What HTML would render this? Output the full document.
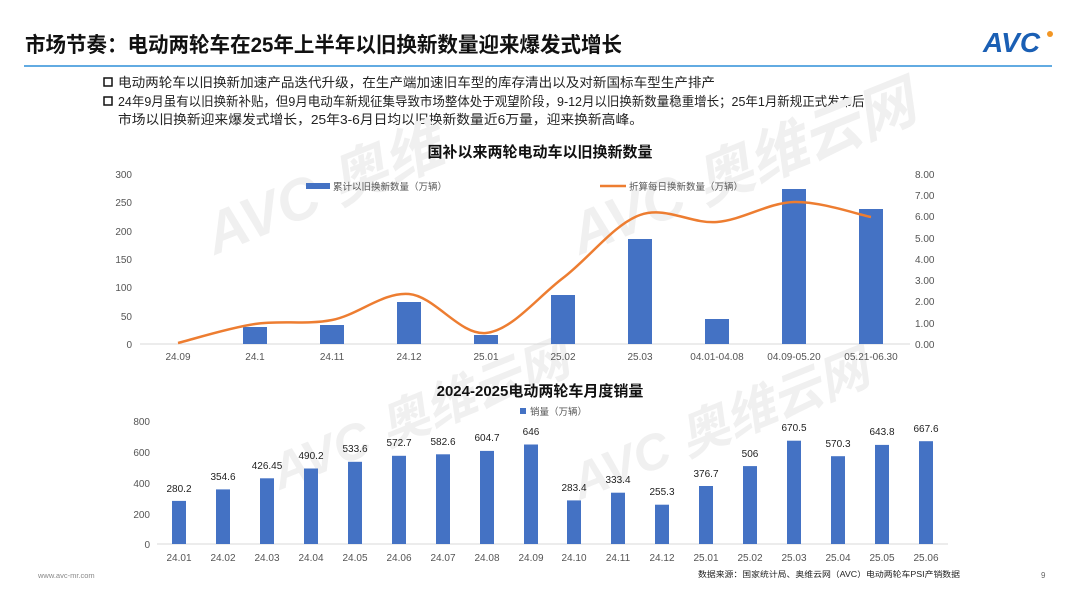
<!DOCTYPE html>
<html><head><meta charset="utf-8"><style>
body{margin:0;width:1080px;height:609px;background:#fff;overflow:hidden;font-family:"Liberation Sans","Noto Sans CJK SC",sans-serif;}
</style></head><body>
<svg width="1080" height="609" viewBox="0 0 1080 609" xmlns="http://www.w3.org/2000/svg" font-family="Liberation Sans, Noto Sans CJK SC, sans-serif">
<text x="25" y="52" font-size="21" font-weight="bold" fill="#111" textLength="597" lengthAdjust="spacingAndGlyphs">市场节奏：电动两轮车在25年上半年以旧换新数量迎来爆发式增长</text>
<line x1="24" y1="66" x2="1052" y2="66" stroke="#2e8fd8" stroke-width="1.5"/>
<g transform="translate(983,30)">
<text x="0" y="22" font-size="28" font-weight="bold" font-style="italic" fill="#1a5fb4">AVC</text>
<circle cx="67" cy="4" r="3" fill="#f29624"/>
</g>
<g font-size="13" fill="#222">
<rect x="104" y="78" width="8" height="8" fill="none" stroke="#111" stroke-width="1.5"/>
<text x="118" y="87" textLength="597" lengthAdjust="spacingAndGlyphs">电动两轮车以旧换新加速产品迭代升级，在生产端加速旧车型的库存清出以及对新国标车型生产排产</text>
<rect x="104" y="97" width="8" height="8" fill="none" stroke="#111" stroke-width="1.5"/>
<text x="118" y="106" textLength="759" lengthAdjust="spacingAndGlyphs">24年9月虽有以旧换新补贴，但9月电动车新规征集导致市场整体处于观望阶段，9-12月以旧换新数量稳重增长；25年1月新规正式发布后，</text>
<text x="118" y="124" textLength="525" lengthAdjust="spacingAndGlyphs">市场以旧换新迎来爆发式增长，25年3-6月日均以旧换新数量近6万量，迎来换新高峰。</text>
</g>
<!-- watermarks -->
<g fill="#f0f0f0" font-weight="bold">
<text x="215" y="255" font-size="58" font-style="italic" transform="rotate(-22 215 255)">AVC 奥维</text>
<text x="580" y="255" font-size="58" font-style="italic" transform="rotate(-22 580 255)">AVC 奥维云网</text>
<text x="280" y="490" font-size="50" font-style="italic" transform="rotate(-22 280 490)">AVC 奥维云网</text>
<text x="580" y="500" font-size="50" font-style="italic" transform="rotate(-22 580 500)">AVC 奥维云网</text>
</g>
<!-- top chart -->
<text x="540" y="157" font-size="15" font-weight="bold" text-anchor="middle" fill="#111">国补以来两轮电动车以旧换新数量</text>
<g font-size="10" fill="#555" text-anchor="end">
<text x="132" y="178">300</text><text x="132" y="206">250</text><text x="132" y="235">200</text><text x="132" y="263">150</text><text x="132" y="291">100</text><text x="132" y="320">50</text><text x="132" y="348">0</text>
</g>
<g font-size="10" fill="#555">
<text x="915" y="178">8.00</text><text x="915" y="199">7.00</text><text x="915" y="220">6.00</text><text x="915" y="242">5.00</text><text x="915" y="263">4.00</text><text x="915" y="284">3.00</text><text x="915" y="305">2.00</text><text x="915" y="327">1.00</text><text x="915" y="348">0.00</text>
</g>
<line x1="140" y1="344" x2="910" y2="344" stroke="#d9d9d9"/>
<g fill="#4472c4">
<rect x="243" y="327" width="24" height="17"/>
<rect x="320" y="325" width="24" height="19"/>
<rect x="397" y="302" width="24" height="42"/>
<rect x="474" y="335" width="24" height="9"/>
<rect x="551" y="295" width="24" height="49"/>
<rect x="628" y="239" width="24" height="105"/>
<rect x="705" y="319" width="24" height="25"/>
<rect x="782" y="189" width="24" height="155"/>
<rect x="859" y="209" width="24" height="135"/>
</g>
<path d="M178,343 C191,339.8 229,327.8 255,324 C281,320.2 306,325 332,320 C358,315 383,291.8 409,294 C435,296.2 460,335.7 486,333 C512,330.3 537,297.7 563,278 C589,258.3 614,224.3 640,215 C666,205.7 691,224.2 717,222 C743,219.8 768,202.8 794,202 C820,201.2 858,214.5 871,217" fill="none" stroke="#ed7d31" stroke-width="2.5"/>
<g font-size="10" fill="#555" text-anchor="middle">
<text x="178" y="360">24.09</text><text x="255" y="360">24.1</text><text x="332" y="360">24.11</text><text x="409" y="360">24.12</text><text x="486" y="360">25.01</text><text x="563" y="360">25.02</text><text x="640" y="360">25.03</text><text x="717" y="360">04.01-04.08</text><text x="794" y="360">04.09-05.20</text><text x="871" y="360">05.21-06.30</text>
</g>
<rect x="306" y="183" width="24" height="6" fill="#4472c4"/>
<text x="333" y="190" font-size="9.5" fill="#555">累计以旧换新数量（万辆）</text>
<line x1="600" y1="186" x2="626" y2="186" stroke="#ed7d31" stroke-width="2.5"/>
<text x="629" y="190" font-size="9.5" fill="#555">折算每日换新数量（万辆）</text>
<!-- bottom chart -->
<text x="540" y="396" font-size="15" font-weight="bold" text-anchor="middle" fill="#111">2024-2025电动两轮车月度销量</text>
<rect x="520" y="408" width="6" height="6" fill="#4472c4"/>
<text x="530" y="415" font-size="9.5" fill="#555">销量（万辆）</text>
<g font-size="10" fill="#555" text-anchor="end">
<text x="150" y="425">800</text><text x="150" y="456">600</text><text x="150" y="487">400</text><text x="150" y="518">200</text><text x="150" y="548">0</text>
</g>
<line x1="157" y1="544" x2="948" y2="544" stroke="#d9d9d9"/>
<g fill="#4472c4">
<rect x="172" y="500.9" width="14" height="43.1"/>
<rect x="216" y="489.4" width="14" height="54.6"/>
<rect x="260" y="478.3" width="14" height="65.7"/>
<rect x="304" y="468.5" width="14" height="75.5"/>
<rect x="348" y="461.8" width="14" height="82.2"/>
<rect x="392" y="455.8" width="14" height="88.2"/>
<rect x="436" y="454.3" width="14" height="89.7"/>
<rect x="480" y="450.9" width="14" height="93.1"/>
<rect x="524" y="444.5" width="14" height="99.5"/>
<rect x="567" y="500.4" width="14" height="43.6"/>
<rect x="611" y="492.7" width="14" height="51.3"/>
<rect x="655" y="504.7" width="14" height="39.3"/>
<rect x="699" y="486" width="14" height="58"/>
<rect x="743" y="466.1" width="14" height="77.9"/>
<rect x="787" y="440.7" width="14" height="103.3"/>
<rect x="831" y="456.2" width="14" height="87.8"/>
<rect x="875" y="444.9" width="14" height="99.1"/>
<rect x="919" y="441.2" width="14" height="102.8"/>
</g>
<g font-size="10" fill="#222" text-anchor="middle">
<text x="179" y="492">280.2</text><text x="223" y="480">354.6</text><text x="267" y="469">426.45</text><text x="311" y="459">490.2</text><text x="355" y="452">533.6</text><text x="399" y="446">572.7</text><text x="443" y="445">582.6</text><text x="487" y="441">604.7</text><text x="531" y="435">646</text><text x="574" y="491">283.4</text><text x="618" y="483">333.4</text><text x="662" y="495">255.3</text><text x="706" y="477">376.7</text><text x="750" y="457">506</text><text x="794" y="431">670.5</text><text x="838" y="447">570.3</text><text x="882" y="435">643.8</text><text x="926" y="432">667.6</text>
</g>
<g font-size="10" fill="#555" text-anchor="middle">
<text x="179" y="561">24.01</text><text x="223" y="561">24.02</text><text x="267" y="561">24.03</text><text x="311" y="561">24.04</text><text x="355" y="561">24.05</text><text x="399" y="561">24.06</text><text x="443" y="561">24.07</text><text x="487" y="561">24.08</text><text x="531" y="561">24.09</text><text x="574" y="561">24.10</text><text x="618" y="561">24.11</text><text x="662" y="561">24.12</text><text x="706" y="561">25.01</text><text x="750" y="561">25.02</text><text x="794" y="561">25.03</text><text x="838" y="561">25.04</text><text x="882" y="561">25.05</text><text x="926" y="561">25.06</text>
</g>
<text x="38" y="578" font-size="7.5" fill="#888">www.avc-mr.com</text>
<text x="698" y="577" font-size="8" fill="#222" textLength="262" lengthAdjust="spacingAndGlyphs">数据来源：国家统计局、奥维云网（AVC）电动两轮车PSI产销数据</text>
<text x="1041" y="578" font-size="8" fill="#666">9</text>
</svg>
</body></html>
